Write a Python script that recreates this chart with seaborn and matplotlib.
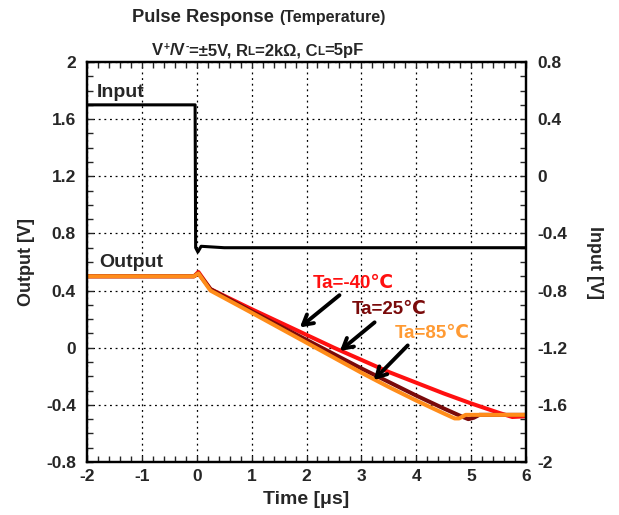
import matplotlib.pyplot as plt
import seaborn as sns
from matplotlib.ticker import MultipleLocator

# Input pulse (right axis, V)
t_input = [-2.0, -0.03, -0.02, 0.02, 0.08, 0.5, 6.0]
v_input = [0.5, 0.5, -0.5, -0.53, -0.49, -0.5, -0.5]

# Output (left axis, V) for each ambient temperature
t_m40 = [-2.0, -0.05, 0.03, 0.25, 1.0, 1.5, 2.0, 2.5, 3.0, 3.5, 4.0, 4.5, 5.0, 5.5, 5.75, 6.0]
v_m40 = [0.50, 0.50, 0.53, 0.41, 0.27, 0.18, 0.09, 0.0, -0.085, -0.17, -0.245, -0.32, -0.39,
         -0.455, -0.485, -0.48]

t_25 = [-2.0, -0.05, 0.03, 0.25, 1.0, 1.5, 2.0, 2.5, 3.0, 3.5, 4.0, 4.5, 4.82, 4.95, 5.05, 5.15, 6.0]
v_25 = [0.50, 0.50, 0.52, 0.41, 0.255, 0.155, 0.055, -0.045, -0.145, -0.24, -0.335, -0.425,
        -0.48, -0.50, -0.49, -0.47, -0.47]

t_85 = [-2.0, -0.05, 0.03, 0.25, 1.0, 1.5, 2.0, 2.5, 3.0, 3.5, 4.0, 4.5, 4.7, 4.78, 4.9, 6.0]
v_85 = [0.50, 0.50, 0.52, 0.40, 0.245, 0.14, 0.035, -0.07, -0.175, -0.275, -0.37, -0.46,
        -0.495, -0.495, -0.47, -0.47]

labels = ['Ta=-40℃', 'Ta=25℃', 'Ta=85℃']
colors = ['#FF1010', '#7A0A0A', '#FF8C1A']
text_colors = ['#FF1010', '#7A0A0A', '#FF9A33']

sns.set_style('ticks')
plt.rcParams['font.family'] = ['Liberation Sans', 'DejaVu Sans']
plt.rcParams['font.weight'] = 'bold'

W, H = 619, 515
fig = plt.figure(figsize=(W / 100, H / 100), dpi=100)
ax = fig.add_axes([87 / W, 1 - 462 / H, 439 / W, 400 / H])
ax2 = ax.twinx()

# outputs
for t, v, c in zip([t_m40, t_25, t_85], [v_m40, v_25, v_85], colors):
    sns.lineplot(x=t, y=v, ax=ax, color=c, linewidth=2.9, sort=False)

# input
sns.lineplot(x=t_input, y=v_input, ax=ax2, color='black', linewidth=2.2, sort=False)

ax.set_xlim(-2, 6)
ax.set_ylim(-0.8, 2)
ax2.set_ylim(-2, 0.8)

ax.xaxis.set_minor_locator(MultipleLocator(0.2))
ax.yaxis.set_minor_locator(MultipleLocator(0.1))
ax2.yaxis.set_minor_locator(MultipleLocator(0.1))

ax.set_xticks([-2, -1, 0, 1, 2, 3, 4, 5, 6])
ax.set_xticklabels(['-2', '-1', '0', '1', '2', '3', '4', '5', '6'])
ax.set_yticks([-0.8, -0.4, 0, 0.4, 0.8, 1.2, 1.6, 2])
ax.set_yticklabels(['-0.8', '-0.4', '0', '0.4', '0.8', '1.2', '1.6', '2'])
ax2.set_yticks([-2, -1.6, -1.2, -0.8, -0.4, 0, 0.4, 0.8])
ax2.set_yticklabels(['-2', '-1.6', '-1.2', '-0.8', '-0.4', '0', '0.4', '0.8'])

ax.grid(True, which='major', linestyle=(0, (1.5, 3)), color='black', linewidth=0.9)
ax.tick_params(axis='x', which='both', direction='in', top=True, length=4, width=1, pad=5,
               labelsize=12.5)
ax.tick_params(axis='y', which='both', direction='in', right=False, length=4, width=1, pad=8,
               labelsize=12.5)
ax2.tick_params(axis='y', which='both', direction='in', length=4, width=1, pad=8, labelsize=12.5)
for lab in ax.get_xticklabels() + ax.get_yticklabels() + ax2.get_yticklabels():
    lab.set_fontweight('bold')

for a in (ax, ax2):
    for s in a.spines.values():
        s.set_linewidth(1.6)
        s.set_color('black')

ax.set_xlabel('Time [μs]', fontsize=14, fontweight='bold', labelpad=5)
ax.set_ylabel('Output [V]', fontsize=13, fontweight='bold', labelpad=8)
ax2.set_ylabel('Input [V]', fontsize=13, fontweight='bold', rotation=270, labelpad=26)

# line labels
ax.text(-1.83, 1.785, 'Input', fontsize=14, fontweight='bold', va='center', ha='left')
ax.text(-1.78, 0.595, 'Output', fontsize=14, fontweight='bold', va='center', ha='left')

ax.text(2.11, 0.45, labels[0], color=text_colors[0], fontsize=13.5, fontweight='bold', va='center')
ax.text(2.82, 0.27, labels[1], color=text_colors[1], fontsize=13.5, fontweight='bold', va='center')
ax.text(3.61, 0.10, labels[2], color=text_colors[2], fontsize=13.5, fontweight='bold', va='center')

arrow = dict(arrowstyle='->,head_length=0.7,head_width=0.4', color='black', lw=2.8)
ax.annotate('', xy=(1.84, 0.13), xytext=(2.64, 0.38), arrowprops=arrow)
ax.annotate('', xy=(2.57, -0.035), xytext=(3.28, 0.19), arrowprops=arrow)
ax.annotate('', xy=(3.19, -0.24), xytext=(3.88, 0.03), arrowprops=arrow)


def place_runs(runs, xc_px, base_px):
    # lay out text pieces one after another, centred on xc_px
    r = fig.canvas.get_renderer()
    items = []
    for s, size, rise in runs:
        t = fig.text(0, 0, s, fontsize=size, fontweight='bold', ha='left', va='baseline')
        items.append((t, rise, t.get_window_extent(r).width))
    x = xc_px - sum(w for _, _, w in items) / 2
    for t, rise, w in items:
        t.set_position((x / W, 1 - (base_px - rise) / H))
        x += w


place_runs([('Pulse Response ', 13.2, 0), ('(Temperature)', 11.5, 0)], 259, 22)
place_runs([('V', 12, 0), ('+', 7.5, 5), ('/V', 12, 0), ('-', 7.5, 5),
            ('=±5V, R', 12, 0), ('L', 8.5, 0), ('=2kΩ, C', 12, 0), ('L', 8.5, 0),
            ('=5pF', 12, 0)], 258, 55)

fig.savefig('out.png', dpi=100)
